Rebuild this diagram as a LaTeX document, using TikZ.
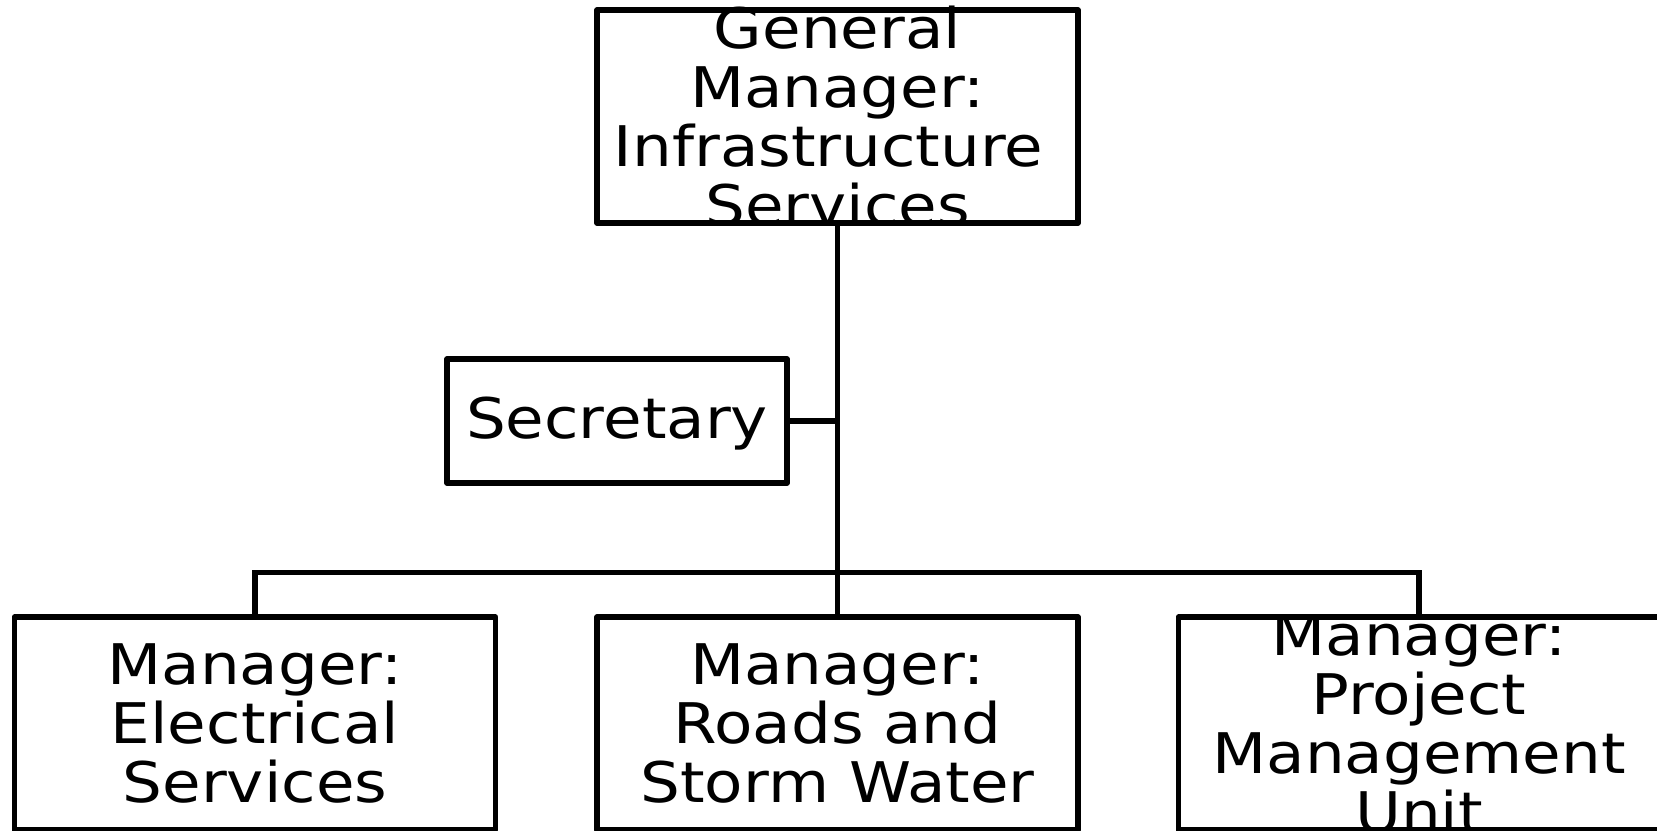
\documentclass[tikz,border=0pt]{standalone}
\usepackage{fontspec}
\newfontfamily\djv[FakeStretch=1.12]{DejaVu Sans}
\begin{document}
\begin{tikzpicture}[x=1pt,y=-1pt,
  box/.style={draw,line width=5.5pt,line join=round,inner sep=0pt,minimum width=481pt,minimum height=213pt},
  lbl/.style={font=\djv\fontsize{56}{59}\selectfont,align=center,inner sep=0pt},
  conn/.style={line width=5.5pt}]
\useasboundingbox (0,0) rectangle (1657,830);
\clip (0,0) rectangle (1657,830);
\node[box] (gm) at (837.5,116.5) {};
\node[lbl] (gmt) at (gm.center) {General\\Manager:\\Infrastructure\kern0.32em\\Services};
\node[box,minimum width=340pt,minimum height=124pt] (sec) at (617,421) {};
\node[lbl,anchor=base] (sect) at ([yshift=-17pt]sec.center) {Secretary};
\node[box] (el) at (255,723.5) {};
\node[lbl] (elt) at (el.center) {Manager:\\Electrical\\Services};
\node[box] (rd) at (837.5,723.5) {};
\node[lbl] (rdt) at (rd.center) {Manager:\\Roads and\\Storm Water};
\node[box] (pm) at (1419,723.5) {};
\node[lbl] (pmt) at (pm.center) {Manager:\\Project\\Management\\Unit};
\draw[conn] (gm.south) -- (rd.north);
\draw[conn] (sec.east) -- (sec.east -| gm.south);
\draw[conn] (el.north) -- ++(0,-42) -| (pm.north);
\end{tikzpicture}
\end{document}
